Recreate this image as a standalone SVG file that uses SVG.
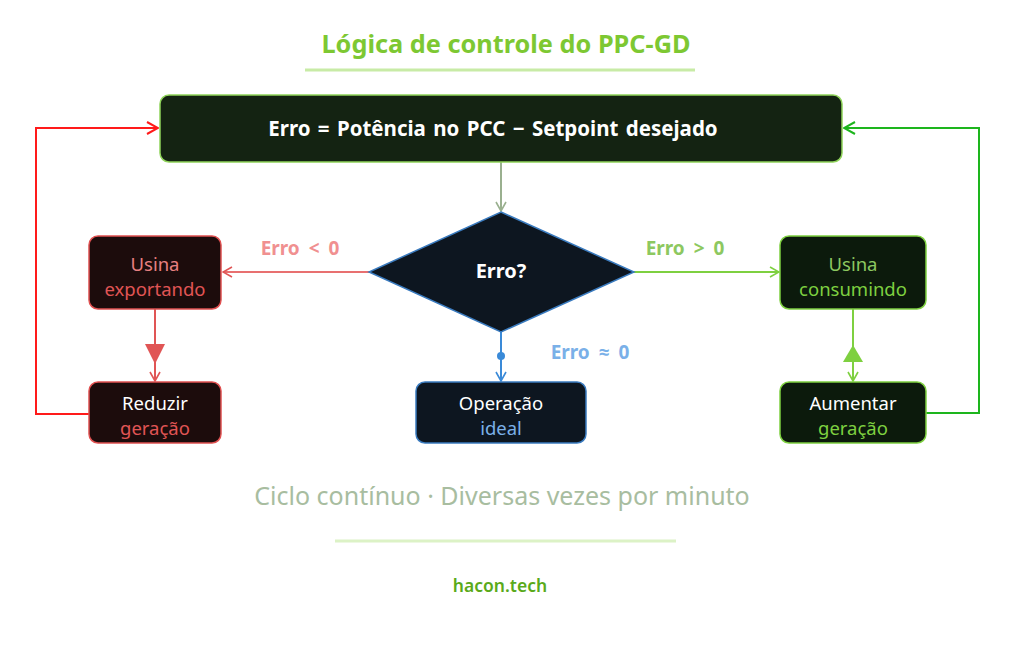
<svg xmlns="http://www.w3.org/2000/svg" width="1024" height="670" viewBox="0 0 1024 670">
<defs>
<style>
text{font-family:"Noto Sans","Open Sans","DejaVu Sans",sans-serif;text-anchor:middle}
.b{font-weight:700}
.n{font-size:18.5px}
.w{fill:#ffffff}
.lbl{font-size:19px;font-weight:700;word-spacing:4px}
</style>
<marker id="aGray" viewBox="0 0 12 12" refX="11" refY="6" markerWidth="12" markerHeight="12" markerUnits="userSpaceOnUse" orient="auto"><path d="M2,1 L11,6 L2,11" fill="none" stroke="#9ab08f" stroke-width="1.6"/></marker>
<marker id="aRed" viewBox="0 0 12 12" refX="11" refY="6" markerWidth="12" markerHeight="12" markerUnits="userSpaceOnUse" orient="auto"><path d="M2,1 L11,6 L2,11" fill="none" stroke="#e05555" stroke-width="1.6"/></marker>
<marker id="aRed2" viewBox="0 0 14 14" refX="13" refY="7" markerWidth="14" markerHeight="14" markerUnits="userSpaceOnUse" orient="auto"><path d="M2,1 L13,7 L2,13" fill="none" stroke="#ff1a1a" stroke-width="2"/></marker>
<marker id="aGrn" viewBox="0 0 12 12" refX="11" refY="6" markerWidth="12" markerHeight="12" markerUnits="userSpaceOnUse" orient="auto"><path d="M2,1 L11,6 L2,11" fill="none" stroke="#7ed040" stroke-width="1.6"/></marker>
<marker id="aGrn2" viewBox="0 0 14 14" refX="13" refY="7" markerWidth="14" markerHeight="14" markerUnits="userSpaceOnUse" orient="auto"><path d="M2,1 L13,7 L2,13" fill="none" stroke="#1db51d" stroke-width="2"/></marker>
<marker id="aBlue" viewBox="0 0 12 12" refX="11" refY="6" markerWidth="12" markerHeight="12" markerUnits="userSpaceOnUse" orient="auto"><path d="M2,1 L11,6 L2,11" fill="none" stroke="#3a8ad8" stroke-width="1.6"/></marker>
</defs>
<rect width="1024" height="670" fill="#ffffff"/>

<g id="title">
<text x="506" y="53" class="b" font-size="25.3" fill="#7dc832">Lógica de controle do PPC-GD</text>
<line x1="305" y1="70" x2="695" y2="70" stroke="#c8eba6" stroke-width="3"/>
</g>

<g id="connectors" fill="none">
<line x1="501" y1="162" x2="501" y2="211" stroke="#9ab08f" stroke-width="2" marker-end="url(#aGray)"/>
<line x1="369" y1="272" x2="223" y2="272" stroke="#e87070" stroke-width="2" marker-end="url(#aRed)"/>
<line x1="634" y1="272" x2="779" y2="272" stroke="#7ed040" stroke-width="2" marker-end="url(#aGrn)"/>
<line x1="501" y1="332" x2="501" y2="381" stroke="#3a8ad8" stroke-width="2" marker-end="url(#aBlue)"/>
<circle cx="501" cy="356" r="4" fill="#3a8ad8"/>
<line x1="155" y1="309" x2="155" y2="381" stroke="#e05555" stroke-width="2" marker-end="url(#aRed)"/>
<path d="M145,344 L165,344 L155,364 Z" fill="#e05555"/>
<line x1="853" y1="309" x2="853" y2="381" stroke="#7ed040" stroke-width="2" marker-end="url(#aGrn)"/>
<path d="M843,362 L863,362 L853,345 Z" fill="#7ed040"/>
<path d="M89,414 L36,414 L36,128 L158,128" stroke="#ff1a1a" stroke-width="2" marker-end="url(#aRed2)"/>
<path d="M926,413 L979,413 L979,128 L844,128" stroke="#1db51d" stroke-width="2" marker-end="url(#aGrn2)"/>
<text x="300" y="255" class="lbl" fill="#f09090" stroke="none">Erro &lt; 0</text>
<text x="685" y="255" class="lbl" fill="#8dc860" stroke="none">Erro &gt; 0</text>
<text x="590" y="359" class="lbl" fill="#7ab0e8" stroke="none">Erro ≈ 0</text>
</g>

<g id="node-erro-formula">
<rect x="160" y="95" width="682" height="67" rx="9" fill="#142312" stroke="#8fd35a" stroke-width="1.5"/>
<text x="493" y="136" class="b w" font-size="20.5" word-spacing="2">Erro = Potência no PCC − Setpoint desejado</text>
</g>

<g id="node-decision">
<path d="M501,212 L634,272 L501,332 L369,272 Z" fill="#0d1620" stroke="#3a7bbf" stroke-width="1.5"/>
<text x="501" y="278" class="b w" font-size="20">Erro?</text>
</g>

<g id="node-exportando">
<rect x="89" y="236" width="132" height="73" rx="9" fill="#1c0c0c" stroke="#e05050" stroke-width="1.5"/>
<text x="155" y="271" class="n" fill="#e88080">Usina</text>
<text x="155" y="296" class="n" fill="#e05555">exportando</text>
</g>

<g id="node-reduzir">
<rect x="89" y="382" width="132" height="61" rx="9" fill="#1c0c0c" stroke="#e05050" stroke-width="1.5"/>
<text x="155" y="410" class="n w">Reduzir</text>
<text x="155" y="435" class="n" fill="#e05555">geração</text>
</g>

<g id="node-consumindo">
<rect x="780" y="236" width="146" height="73" rx="9" fill="#0c1a0c" stroke="#7ed040" stroke-width="1.5"/>
<text x="853" y="271" class="n" fill="#8dc860">Usina</text>
<text x="853" y="296" class="n" fill="#7ed040">consumindo</text>
</g>

<g id="node-aumentar">
<rect x="780" y="382" width="146" height="61" rx="9" fill="#0c1a0c" stroke="#7ed040" stroke-width="1.5"/>
<text x="853" y="410" class="n w">Aumentar</text>
<text x="853" y="435" class="n" fill="#7ed040">geração</text>
</g>

<g id="node-ideal">
<rect x="416" y="382" width="170" height="61" rx="9" fill="#0d1620" stroke="#3a7bbf" stroke-width="1.5"/>
<text x="501" y="410" class="n w">Operação</text>
<text x="501" y="435" class="n" fill="#7ab0e8">ideal</text>
</g>

<g id="footer">
<text x="502" y="505" font-size="25" fill="#a8bda0">Ciclo contínuo · Diversas vezes por minuto</text>
<line x1="335" y1="541" x2="676" y2="541" stroke="#dcf2c6" stroke-width="3"/>
<text x="500" y="592" font-size="17.5" font-weight="600" fill="#5aaa1a">hacon.tech</text>
</g>
</svg>
